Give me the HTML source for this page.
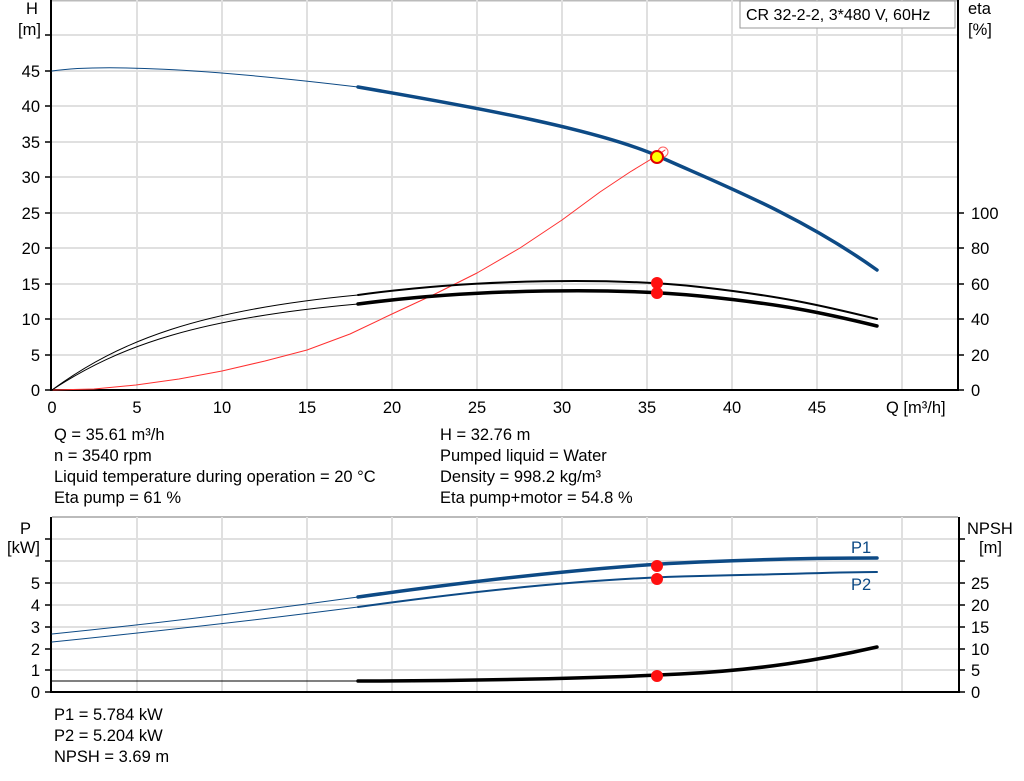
<!DOCTYPE html>
<html><head><meta charset="utf-8"><style>
body{margin:0;background:#fff}
svg{display:block;font-family:"Liberation Sans",sans-serif}
</style></head><body>
<svg width="1024" height="781" viewBox="0 0 1024 781" xmlns="http://www.w3.org/2000/svg">
<g stroke="#e0e0e0" stroke-width="2" fill="none">
<line x1="52" y1="0.5" x2="958" y2="0.5" stroke="#bbb"/>
<line x1="52" y1="35" x2="958" y2="35"/><line x1="52" y1="71" x2="958" y2="71"/><line x1="52" y1="106" x2="958" y2="106"/>
<line x1="52" y1="142" x2="958" y2="142"/><line x1="52" y1="177" x2="958" y2="177"/><line x1="52" y1="213" x2="958" y2="213"/>
<line x1="52" y1="248" x2="958" y2="248"/><line x1="52" y1="284" x2="958" y2="284"/><line x1="52" y1="319" x2="958" y2="319"/>
<line x1="52" y1="355" x2="958" y2="355"/>
<line x1="137" y1="0" x2="137" y2="390"/><line x1="222" y1="0" x2="222" y2="390"/><line x1="307" y1="0" x2="307" y2="390"/>
<line x1="392" y1="0" x2="392" y2="390"/><line x1="477" y1="0" x2="477" y2="390"/><line x1="562" y1="0" x2="562" y2="390"/>
<line x1="647" y1="0" x2="647" y2="390"/><line x1="732" y1="0" x2="732" y2="390"/><line x1="817" y1="0" x2="817" y2="390"/><line x1="902" y1="0" x2="902" y2="390"/>
<line x1="52" y1="517" x2="958" y2="517" stroke="#bbb"/>
<line x1="52" y1="539" x2="958" y2="539"/><line x1="52" y1="561" x2="958" y2="561"/><line x1="52" y1="583" x2="958" y2="583"/>
<line x1="52" y1="605" x2="958" y2="605"/><line x1="52" y1="627" x2="958" y2="627"/><line x1="52" y1="649" x2="958" y2="649"/>
<line x1="52" y1="670" x2="958" y2="670"/>
<line x1="137" y1="517" x2="137" y2="692"/><line x1="222" y1="517" x2="222" y2="692"/><line x1="307" y1="517" x2="307" y2="692"/>
<line x1="392" y1="517" x2="392" y2="692"/><line x1="477" y1="517" x2="477" y2="692"/><line x1="562" y1="517" x2="562" y2="692"/>
<line x1="647" y1="517" x2="647" y2="692"/><line x1="732" y1="517" x2="732" y2="692"/><line x1="817" y1="517" x2="817" y2="692"/><line x1="902" y1="517" x2="902" y2="692"/>
</g>
<g stroke="#000" stroke-width="2" fill="none">
<line x1="51" y1="0" x2="51" y2="391"/><line x1="50" y1="390" x2="958" y2="390"/><line x1="958" y1="0" x2="958" y2="391"/>
<line x1="51" y1="517" x2="51" y2="693"/><line x1="50" y1="692" x2="959" y2="692"/><line x1="959" y1="517" x2="959" y2="693"/>
</g>
<g stroke="#000" stroke-width="1.5">
<line x1="45" y1="35" x2="51" y2="35"/><line x1="45" y1="71" x2="51" y2="71"/><line x1="45" y1="106" x2="51" y2="106"/><line x1="45" y1="142" x2="51" y2="142"/><line x1="45" y1="177" x2="51" y2="177"/><line x1="45" y1="213" x2="51" y2="213"/><line x1="45" y1="248" x2="51" y2="248"/><line x1="45" y1="284" x2="51" y2="284"/><line x1="45" y1="319" x2="51" y2="319"/><line x1="45" y1="355" x2="51" y2="355"/><line x1="45" y1="390" x2="51" y2="390"/>
<line x1="958" y1="213" x2="964" y2="213"/><line x1="958" y1="248" x2="964" y2="248"/><line x1="958" y1="284" x2="964" y2="284"/><line x1="958" y1="319" x2="964" y2="319"/><line x1="958" y1="355" x2="964" y2="355"/><line x1="958" y1="390" x2="964" y2="390"/>
<line x1="45" y1="539" x2="51" y2="539"/><line x1="45" y1="561" x2="51" y2="561"/><line x1="45" y1="583" x2="51" y2="583"/><line x1="45" y1="605" x2="51" y2="605"/><line x1="45" y1="627" x2="51" y2="627"/><line x1="45" y1="649" x2="51" y2="649"/><line x1="45" y1="670" x2="51" y2="670"/><line x1="45" y1="692" x2="51" y2="692"/>
<line x1="959" y1="539" x2="965" y2="539"/><line x1="959" y1="561" x2="965" y2="561"/><line x1="959" y1="583" x2="965" y2="583"/><line x1="959" y1="605" x2="965" y2="605"/><line x1="959" y1="627" x2="965" y2="627"/><line x1="959" y1="649" x2="965" y2="649"/><line x1="959" y1="670" x2="965" y2="670"/><line x1="959" y1="692" x2="965" y2="692"/>
</g>
<g font-size="16.5" fill="#000" text-anchor="end">
<text x="40" y="77">45</text><text x="40" y="112">40</text><text x="40" y="148">35</text><text x="40" y="183">30</text><text x="40" y="219">25</text><text x="40" y="254">20</text><text x="40" y="290">15</text><text x="40" y="325">10</text><text x="40" y="361">5</text><text x="40" y="396">0</text>
<text x="40" y="589">5</text><text x="40" y="611">4</text><text x="40" y="633">3</text><text x="40" y="655">2</text><text x="40" y="676">1</text><text x="40" y="698">0</text>
</g>
<g font-size="16.5" fill="#000">
<text x="971" y="219">100</text><text x="971" y="254">80</text><text x="971" y="290">60</text><text x="971" y="325">40</text><text x="971" y="361">20</text><text x="971" y="396">0</text>
<text x="971" y="589">25</text><text x="971" y="611">20</text><text x="971" y="633">15</text><text x="971" y="655">10</text><text x="971" y="676">5</text><text x="971" y="698">0</text>
<text x="26" y="14">H</text><text x="18" y="35">[m]</text>
<text x="968" y="14">eta</text><text x="968" y="35">[%]</text>
<text x="20" y="534">P</text><text x="7" y="553">[kW]</text>
<text x="967" y="534">NPSH</text><text x="979" y="553">[m]</text>
<text x="886" y="413">Q [m³/h]</text>
</g>
<g font-size="16.5" fill="#000" text-anchor="middle">
<text x="52" y="413">0</text><text x="137" y="413">5</text><text x="222" y="413">10</text><text x="307" y="413">15</text><text x="392" y="413">20</text><text x="477" y="413">25</text><text x="562" y="413">30</text><text x="647" y="413">35</text><text x="732" y="413">40</text><text x="817" y="413">45</text>
</g>
<rect x="740" y="1" width="215" height="27" fill="#fff" stroke="#999"/>
<text x="746" y="20" font-size="16">CR 32-2-2, 3*480 V, 60Hz</text>
<g fill="none" stroke-linejoin="round" stroke-linecap="round">
<polyline points="52,390 94,389 136,385 179,379 222,371 265,361 307,350 350,334 392,314 435,294 477,273 520,248 562,220 600,192 630,172 658,155 665,150" stroke="#ff3030" stroke-width="1"/>
<path d="M52,71 C100,64 200,68 358,87" stroke="#0d4a85" stroke-width="1"/>
<path d="M358,87 C480,108 600,130 660,157 S800,215 877,270" stroke="#0d4a85" stroke-width="3.5"/>
<path d="M52,390 C120,340 200,310 358,295" stroke="#000" stroke-width="1"/>
<path d="M52,390 C120,345 200,318 358,304" stroke="#000" stroke-width="1"/>
<path d="M358,295 C480,278 620,278 700,287 S820,305 877,319" stroke="#000" stroke-width="2"/>
<path d="M358,304 C480,288 620,288 700,296 S820,312 877,326" stroke="#000" stroke-width="3.5"/>
<path d="M52,634 C150,624 250,612 358,597" stroke="#0d4a85" stroke-width="1"/>
<path d="M358,597 C480,580 600,566 700,562 S840,558 877,558" stroke="#0d4a85" stroke-width="3.5"/>
<path d="M52,642 C150,632 250,621 358,607" stroke="#0d4a85" stroke-width="1"/>
<path d="M358,607 C480,590 600,578 700,576 S840,572 877,572" stroke="#0d4a85" stroke-width="2"/>
<path d="M52,681 L358,681" stroke="#000" stroke-width="1"/>
<path d="M358,681 C480,681 600,678 680,674 S820,660 877,647" stroke="#000" stroke-width="3.5"/>
</g>
<circle cx="663" cy="152" r="5" fill="none" stroke="#ff6060" stroke-width="1"/>
<circle cx="657" cy="157" r="6" fill="#ffff00" stroke="#e00000" stroke-width="2"/>
<g fill="#ff1010">
<circle cx="657" cy="283" r="6"/><circle cx="657" cy="293" r="6"/>
<circle cx="657" cy="566" r="6"/><circle cx="657" cy="579" r="6"/><circle cx="657" cy="676" r="6"/>
</g>
<g font-size="16.5" fill="#0d4a85"><text x="851" y="553">P1</text><text x="851" y="590">P2</text></g>
<g font-size="16.5" fill="#000">
<text x="54" y="440">Q = 35.61 m³/h</text>
<text x="54" y="461">n = 3540 rpm</text>
<text x="54" y="482">Liquid temperature during operation = 20 °C</text>
<text x="54" y="503">Eta pump = 61 %</text>
<text x="440" y="440">H = 32.76 m</text>
<text x="440" y="461">Pumped liquid = Water</text>
<text x="440" y="482">Density = 998.2 kg/m³</text>
<text x="440" y="503">Eta pump+motor = 54.8 %</text>
<text x="54" y="720">P1 = 5.784 kW</text>
<text x="54" y="741">P2 = 5.204 kW</text>
<text x="54" y="762">NPSH = 3.69 m</text>
</g>
</svg>
</body></html>
